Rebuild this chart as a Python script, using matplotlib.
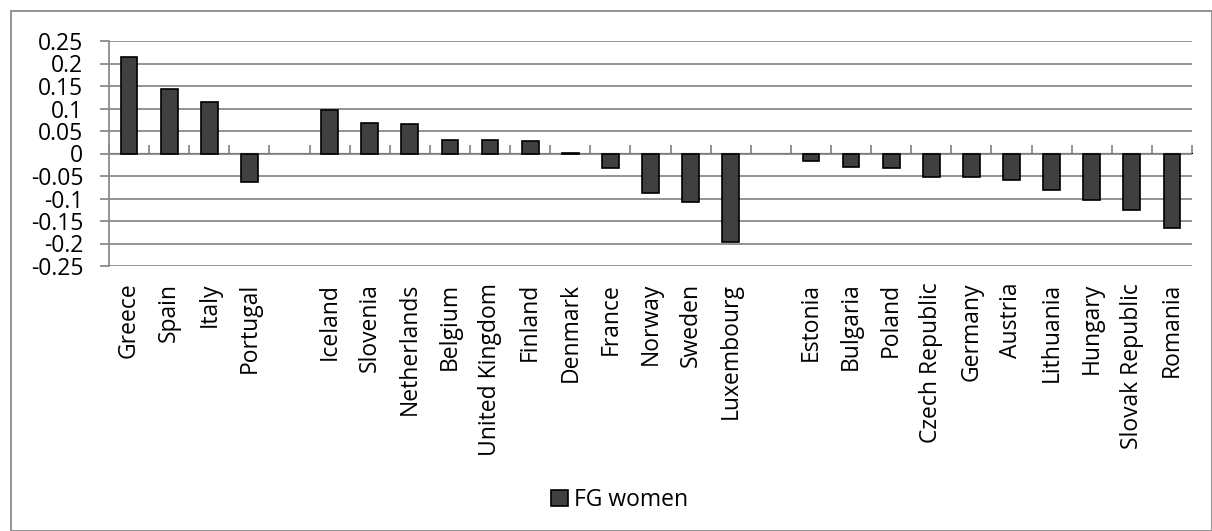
import numpy as np
import matplotlib
matplotlib.use("Agg")
import matplotlib.pyplot as plt
from matplotlib.patches import Rectangle

plt.rcParams['font.family'] = ['Open Sans', 'DejaVu Sans']

# Country groups, separated by an empty slot
categories = ["Greece", "Spain", "Italy", "Portugal", "",
              "Iceland", "Slovenia", "Netherlands", "Belgium", "United Kingdom",
              "Finland", "Denmark", "France", "Norway", "Sweden", "Luxembourg", "",
              "Estonia", "Bulgaria", "Poland", "Czech Republic", "Germany",
              "Austria", "Lithuania", "Hungary", "Slovak Republic", "Romania"]
fg_women = [0.215, 0.143, 0.114, -0.063, None,
            0.096, 0.067, 0.065, 0.031, 0.029,
            0.028, 0.002, -0.032, -0.088, -0.108, -0.197, None,
            -0.017, -0.029, -0.032, -0.052, -0.052,
            -0.058, -0.080, -0.104, -0.126, -0.166]
series_name = "FG women"
yticks = [0.25, 0.2, 0.15, 0.1, 0.05, 0, -0.05, -0.1, -0.15, -0.2, -0.25]
ytick_labels = ["0.25", "0.2", "0.15", "0.1", "0.05", "0", "-0.05", "-0.1",
                "-0.15", "-0.2", "-0.25"]

W, H = 1212, 531
fig = plt.figure(figsize=(W / 100, H / 100), dpi=100)
ax = fig.add_axes([109 / W, 1 - 266 / H, (1192 - 109) / W, (266 - 41) / H])

grid_c = "#8a8a8a"
fs = 16.5
n = len(categories)
x = np.arange(n) + 0.5
vals = np.array([np.nan if v is None else v for v in fg_women], dtype=float)
ax.bar(x, vals, width=0.42, color="#404040", edgecolor="black",
       linewidth=1.2, zorder=3, label=series_name)

ax.set_xlim(0, n)
ax.set_ylim(-0.25, 0.25)
ax.set_yticks(yticks)
ax.set_yticklabels(ytick_labels)
ax.yaxis.grid(True, color=grid_c, linewidth=1.3)
ax.set_axisbelow(True)

for s in ("top", "right", "bottom"):
    ax.spines[s].set_visible(False)
ax.spines["left"].set_color(grid_c)
ax.spines["left"].set_linewidth(1.3)
ax.tick_params(axis="y", direction="out", length=6.5, width=1.3, color=grid_c,
               labelsize=fs, pad=12)

ax.set_xticks(x)
ax.set_xticklabels(categories, rotation=90, fontsize=fs)
ax.tick_params(axis="x", length=0, pad=12)

# zero line with category separators
sec = ax.secondary_xaxis(0.5)
sec.set_xticks(np.arange(n + 1))
sec.set_xticklabels([])
sec.spines["bottom"].set_color(grid_c)
sec.spines["bottom"].set_linewidth(1.3)
sec.tick_params(axis="x", direction="out", length=5.5, width=1.3, color=grid_c)

# outer chart frame
fig.patches.append(Rectangle((11 / W, 0), (W - 11.5) / W, 1 - 11 / H,
                             transform=fig.transFigure, fill=False,
                             edgecolor=grid_c, linewidth=1.3))

fig.legend(loc="center", bbox_to_anchor=(620 / W, 1 - 500 / H), frameon=False,
           fontsize=fs, handlelength=0.7, handleheight=0.7, handletextpad=0.3)

fig.savefig("out.png", dpi=100)
